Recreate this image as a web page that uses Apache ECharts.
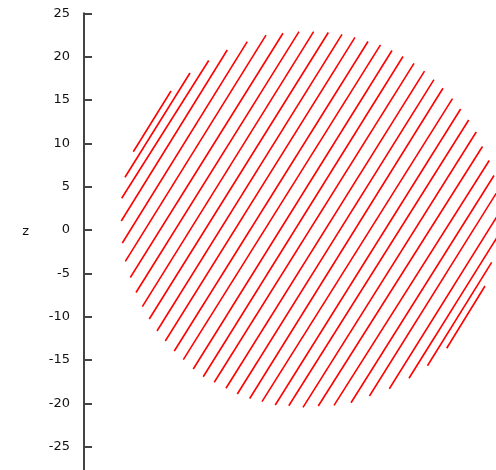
<!DOCTYPE html>
<html>
<head>
<meta charset="utf-8">
<script src="https://cdn.jsdelivr.net/npm/echarts@6/dist/echarts.min.js"></script>
<style>
  html, body { margin: 0; padding: 0; background: #fff; }
  #chart { width: 496px; height: 470px; }
</style>
</head>
<body>
<div id="chart"></div>
<script>
// hatch lines of the disc, lower-left end -> upper-right end
const lowX = [-20.31, -21.27, -21.65, -21.70, -21.58, -21.23, -20.66, -20.00, -19.27, -18.47, -17.58,
  -16.62, -15.58, -14.54, -13.39, -12.24, -10.97, -9.62, -8.31, -6.88, -5.46, -3.93, -2.37, -0.73,
  1.03, 2.85, 4.81, 6.94, 9.23, 11.50, 13.63, 15.85];
const lowZ = [9.03, 6.08, 3.66, 1.04, -1.50, -3.63, -5.48, -7.21, -8.85, -10.27, -11.65,
  -12.81, -13.96, -14.96, -16.04, -16.93, -17.57, -18.26, -18.92, -19.44, -19.81, -20.19, -20.28, -20.46,
  -20.31, -20.23, -19.93, -19.15, -18.32, -17.11, -15.66, -13.65];
const highX = [-15.96, -13.77, -11.61, -9.47, -7.16, -5.00, -3.04, -1.19, 0.50, 2.19, 3.77,
  5.27, 6.77, 8.21, 9.54, 10.81, 12.08, 13.29, 14.38, 15.42, 16.52, 17.46, 18.39, 19.26,
  19.98, 20.76, 21.31, 21.56, 21.77, 21.67, 21.04, 20.27];
const highZ = [16.04, 18.11, 19.56, 20.77, 21.73, 22.48, 22.70, 22.88, 22.88, 22.79, 22.56,
  22.23, 21.75, 21.35, 20.71, 20.02, 19.23, 18.32, 17.34, 16.35, 15.15, 13.96, 12.69, 11.31,
  9.63, 8.02, 6.29, 4.23, 1.74, -0.83, -3.73, -6.46];

const zMin = -30, zMax = 25, zStep = 5;

const chart = echarts.init(document.getElementById('chart'));

const segs = lowX.map((x, i) => ({ coords: [[x, lowZ[i]], [highX[i], highZ[i]]] }));

chart.setOption({
  animation: false,
  grid: { left: 84, right: 0, top: 13.3, bottom: -20, outerBoundsMode: 'none', containLabel: false },
  xAxis: { type: 'value', min: -26, max: 21.54, show: false },
  yAxis: {
    type: 'value',
    min: zMin,
    max: zMax,
    interval: zStep,
    // second empty line lifts the "z" up to the zero tick
    name: 'z\n ',
    nameLocation: 'middle',
    nameRotate: 0,
    nameGap: 55,
    nameTextStyle: { fontFamily: 'DejaVu Sans', fontSize: 13, color: '#111', lineHeight: 40 },
    axisLine: { show: true, onZero: false, lineStyle: { color: '#444', width: 2 } },
    axisTick: { show: true, inside: true, length: 8, lineStyle: { color: '#444', width: 2 } },
    axisLabel: { margin: 14, fontFamily: 'DejaVu Sans', fontSize: 13, color: '#111' },
    splitLine: { show: false }
  },
  series: [{
    type: 'lines',
    coordinateSystem: 'cartesian2d',
    silent: true,
    lineStyle: { color: '#ff0000', width: 1.6, opacity: 1 },
    data: segs
  }]
});
</script>
</body>
</html>
